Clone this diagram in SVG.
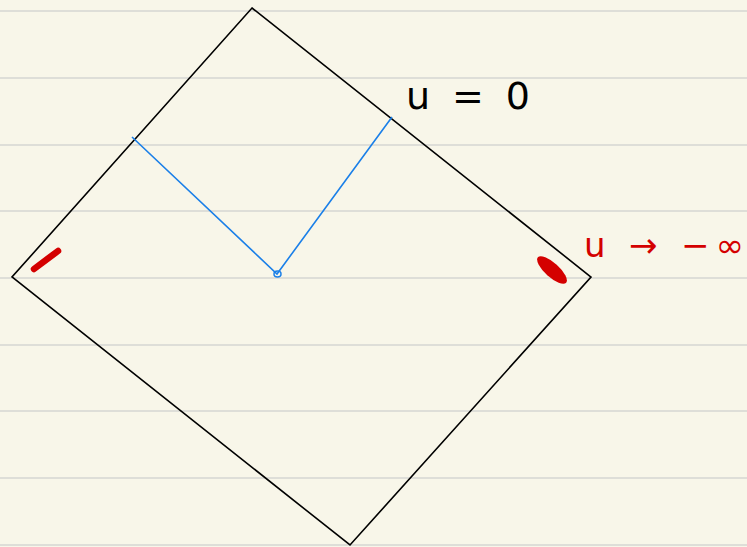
<svg xmlns="http://www.w3.org/2000/svg" width="747" height="547" viewBox="0 0 747 547">
<style>
.rule{stroke:#d6d6d2;stroke-width:1.5}
.edge{fill:none;stroke:#000;stroke-width:1.6;stroke-linejoin:miter}
.blue{fill:none;stroke:#1a7fe8;stroke-width:1.6}
.hand{font-family:"DejaVu Sans","Liberation Sans",sans-serif;font-weight:normal}
</style>
<rect width="747" height="547" fill="#f8f6e9"/>
<g id="rules">
<line class="rule" x1="0" y1="11" x2="747" y2="11"/>
<line class="rule" x1="0" y1="78" x2="747" y2="78"/>
<line class="rule" x1="0" y1="145" x2="747" y2="145"/>
<line class="rule" x1="0" y1="211" x2="747" y2="211"/>
<line class="rule" x1="0" y1="278" x2="747" y2="278"/>
<line class="rule" x1="0" y1="345" x2="747" y2="345"/>
<line class="rule" x1="0" y1="411" x2="747" y2="411"/>
<line class="rule" x1="0" y1="478" x2="747" y2="478"/>
<line class="rule" x1="0" y1="545" x2="747" y2="545"/>
</g>
<g id="diamond">
<polygon class="edge" points="252,8 591,277 350,545 12,277"/>
</g>
<g id="connectors">
<polyline class="blue" points="132,137 277,274 392,117"/>
<ellipse cx="277.5" cy="274" rx="3.5" ry="3" fill="none" stroke="#1a7fe8" stroke-width="1.5"/>
</g>
<g id="marks">
<line x1="34" y1="269" x2="58" y2="251" stroke="#d40000" stroke-width="6.5" stroke-linecap="round"/>
<ellipse cx="552" cy="270" rx="19" ry="7" fill="#d40000" transform="rotate(42 552 270)"/>
</g>
<g id="label-u0">
<text class="hand" x="406" y="109" font-size="38" textLength="124" lengthAdjust="spacing" fill="#000">u = 0</text>
</g>
<g id="label-uinf">
<text class="hand" x="584" y="257" font-size="34" textLength="160" lengthAdjust="spacing" fill="#d40000">u → −∞</text>
</g>
</svg>
